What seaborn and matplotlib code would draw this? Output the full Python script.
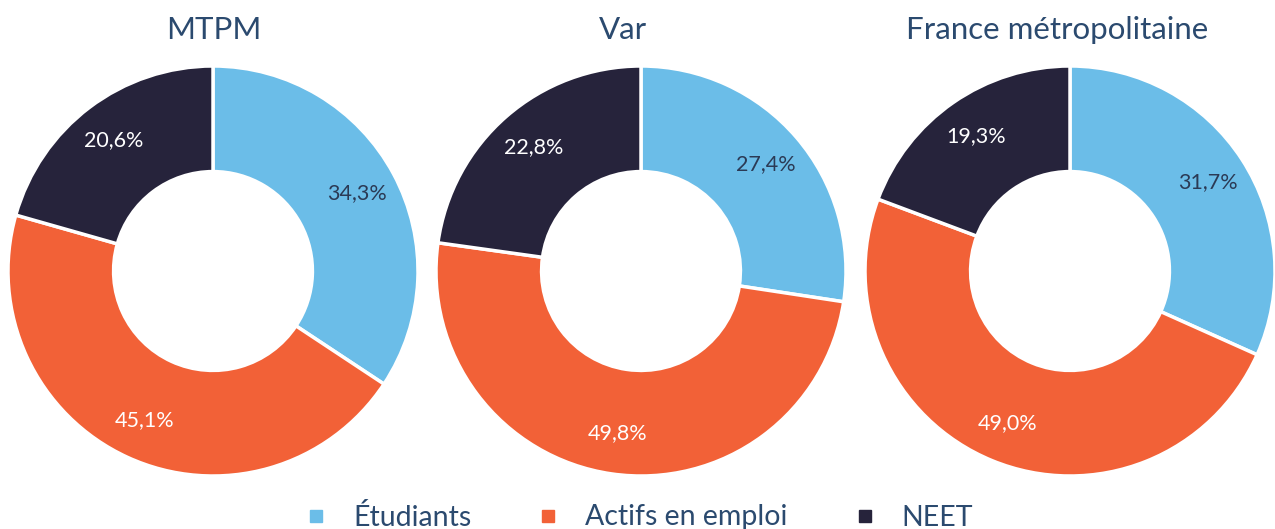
import numpy as np
import seaborn as sns
import matplotlib.pyplot as plt
from matplotlib.lines import Line2D

# Data
regions = ['MTPM', 'Var', 'France métropolitaine']
categories = ['Étudiants', 'Actifs en emploi', 'NEET']
etudiants = [34.3, 27.4, 31.7]
actifs = [45.1, 49.8, 49.0]
neet = [20.6, 22.8, 19.3]

colors = ['#6BBDE8', '#F26137', '#26233B']
label_colors = ['#2B3A55', 'white', 'white']
title_color = '#2B4A6F'

sns.set_theme(style='white')
plt.rcParams['font.family'] = ['Lato', 'DejaVu Sans']

W, H = 1275, 529
fig = plt.figure(figsize=(W / 100, H / 100), dpi=100)

centers_x = [213, 641, 1070]
title_x = [214, 623, 1057]
cy = 271
R = 205

for i, region in enumerate(regions):
    ax = fig.add_axes([(centers_x[i] - R) / W, (H - cy - R) / H, 2 * R / W, 2 * R / H])
    vals = [etudiants[i], actifs[i], neet[i]]
    wedges, _, autotexts = ax.pie(
        vals, colors=colors, startangle=90, counterclock=False,
        autopct=lambda p: f'{p:.1f}%'.replace('.', ','), pctdistance=0.8,
        wedgeprops=dict(width=0.515, edgecolor='white', linewidth=2.5),
        textprops=dict(fontsize=15.5))
    for t, c in zip(autotexts, label_colors):
        t.set_color(c)
    ax.set_xlim(-1, 1)
    ax.set_ylim(-1, 1)
    ax.set_aspect('equal')
    ax.axis('off')
    fig.text(title_x[i] / W, 1 - 30 / H, region, ha='center', va='center',
             fontsize=22.5, color=title_color)

handles = [Line2D([], [], marker='s', linestyle='', markersize=9, color=c) for c in colors]
fig.legend(handles, categories, loc='center', bbox_to_anchor=(0.5, 1 - 517 / H),
           ncol=3, frameon=False, fontsize=20.5, handlelength=1, handletextpad=0.8,
           columnspacing=2.2, labelcolor=title_color)

fig.savefig('out.png', dpi=100)
